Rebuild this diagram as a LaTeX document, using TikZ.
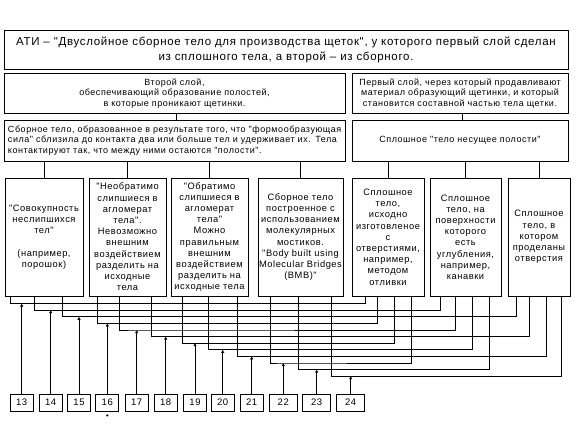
\documentclass[tikz,border=0pt]{standalone}
\usepackage{fontspec}
\setmainfont{Liberation Sans}
\newfontfamily\boxfont[LetterSpace=6]{Liberation Sans}
\usetikzlibrary{arrows.meta, positioning, calc}
\tikzset{
    % Box styles
    headbox/.style={
        rectangle,
        draw=black,
        line width=0.8pt,
        minimum width=564pt,
        minimum height=39pt,
        align=center,
        font=\boxfont\fontsize{11.5}{14.5}\selectfont
    },
    layerbox/.style={
        rectangle,
        draw=black,
        line width=0.8pt,
        minimum height=40pt,
        inner xsep=4pt,
        text width=#1,
        font=\boxfont\fontsize{9}{10.3}\selectfont
    },
    kindbox/.style={
        rectangle,
        draw=black,
        line width=0.8pt,
        minimum height=118pt,
        inner xsep=1pt,
        text width=#1,
        align=center,
        font=\boxfont\fontsize{9.3}{11.2}\selectfont
    },
    numbox/.style={
        rectangle,
        draw=black,
        line width=0.8pt,
        minimum width=23pt,
        minimum height=17pt,
        inner sep=0pt,
        font=\boxfont\fontsize{9.5}{10}\selectfont
    },
    % Connector styles
    link/.style={
        line width=0.8pt,
        draw=black
    },
    tip/.style={
        link,
        -{Latex[length=3pt,width=3.5pt]}
    }
}
\begin{document}
\begin{tikzpicture}[x=1pt, y=-1pt]
    \useasboundingbox (0,0) rectangle (576,432);

    % Title
    \node[headbox] (ati) at (286,50) {АТИ – "Двуслойное сборное тело для производства щеток", у которого первый слой сделан\\
        из сплошного тела, а второй – из сборного.};

    % Layers
    \node[layerbox=333pt, align=center] (second) at (174.5,93.5) {Второй слой,\\
        обеспечивающий образование полостей,\\
        в которые проникают щетинки.};
    \node[layerbox=208pt, align=center] (first) at (460,93.5) {Первый слой, через который продавливают\\
        материал образующий щетинки, и который\\
        становится составной частью тела щетки.};

    \node[layerbox=333pt, align=left, minimum height=41pt] (asm) at (174.5,140.5) {Сборное тело, образованное в результате того, что "формообразующая\\
        сила" сблизила до контакта два или больше тел и удерживает их. Тела\\
        контактируют так, что между ними остаются "полости".};
    \node[layerbox=208pt, align=center, minimum height=41pt] (solid) at (460,140.5) {Сплошное "тело несущее полости"};

    % Body kinds
    \node[kindbox=76pt] (b1) at (44,237) {"Совокупность\\ неслипшихся\\ тел"\\[11.2pt] (например,\\ порошок)};
    \node[kindbox=75pt] (b2) at (127.5,237) {"Необратимо\\ слипшиеся в\\ агломерат\\ тела".\\ Невозможно\\ внешним\\ воздействием\\ разделить на\\ исходные\\ тела};
    \node[kindbox=75pt] (b3) at (209.5,237) {"Обратимо\\ слипшиеся в\\ агломерат\\ тела"\\ Можно\\ правильным\\ внешним\\ воздействием\\ разделить на\\ исходные тела};
    \node[kindbox=83pt] (b4) at (300.5,237) {Сборное тело\\ построенное с\\ использованием\\ молекулярных\\ мостиков.\\ "Body built using\\ Molecular Bridges\\ (BMB)"};
    \node[kindbox=70pt] (b5) at (388,237) {Сплошное\\ тело,\\ исходно\\ изготовленое\\ с\\ отверстиями,\\ например,\\ методом\\ отливки};
    \node[kindbox=69pt] (b6) at (465.5,237) {Сплошное\\ тело, на\\ поверхности\\ которого\\ есть\\ углубления,\\ например,\\ канавки};
    \node[kindbox=60pt] (b7) at (539,237) {Сплошное\\ тело, в\\ котором\\ проделаны\\ отверстия};

    % Numbered variants
    \foreach \n/\x in {13/21.7, 14/50.7, 15/79, 16/107.3, 17/136.7, 18/165.7, 19/195, 20/222.7, 21/251.7}
        \node[numbox] (n\n) at (\x,402.5) {\n};
    \foreach \n/\x in {22/283.3, 23/316.7, 24/350.7}
        \node[numbox, minimum width=28pt] (n\n) at (\x,402.5) {\n};

    % Tree links
    \draw[link] ([xshift=1.5pt]second.south) -- ([xshift=1.5pt]asm.north);
    \draw[link] ([xshift=2pt]first.south) -- ([xshift=2pt]solid.north);
    \foreach \b in {b1, b2, b3, b4}
        \draw[link] (\b.north) -- (\b.north |- asm.south);
    \foreach \b in {b5, b6, b7}
        \draw[link] (\b.north) -- (\b.north |- solid.south);

    % Combination buses
    \foreach \n/\src/\dl/\dst/\dr [count=\k] in {13/b1/5.7/b5/13.7, 14/b1/29.3/b6/10.7, 15/b1/57.3/b7/8.7,
            16/b2/8.3/b5/25.3, 17/b2/31/b6/26, 18/b2/62.7/b7/22,
            19/b3/11.3/b5/42.3, 20/b3/37.3/b6/42.7, 21/b3/66.3/b7/38.7,
            22/b4/12.7/b5/59.7, 23/b4/41/b6/60, 24/b4/73.7/b7/53.7} {
        \pgfmathsetmacro\up{96.6-6.6*\k}
        \coordinate (bus\n) at ([yshift=\up pt]n\n.north);
        \draw[link] ([xshift=\dl pt]\src.south west) |- (bus\n) -| ([xshift=\dr pt]\dst.south west);
        \draw[tip] (n\n) -- (bus\n);
    }
    \fill (n16.south) ++(0,4) coordinate (mark16) circle (1.2pt);
\end{tikzpicture}
\end{document}
